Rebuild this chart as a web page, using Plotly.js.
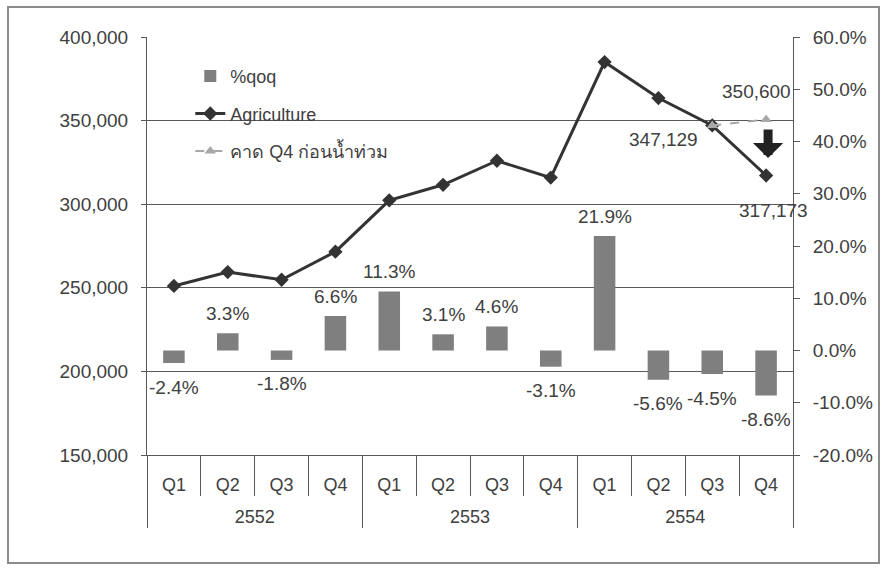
<!DOCTYPE html>
<html>
<head>
<meta charset="utf-8">
<script src="https://cdn.plot.ly/plotly-3.0.1.min.js"></script>
<style>
  html, body { margin: 0; padding: 0; background: #ffffff; }
  #wrap { position: relative; width: 884px; height: 569px; }
  #chart { position: absolute; left: 0; top: 0; width: 884px; height: 569px; }
  #frame { position: absolute; left: 7px; top: 6px; width: 873px; height: 558px; border: 2px solid #8c8c8c; box-sizing: border-box; pointer-events: none; }
</style>
</head>
<body>
<div id="wrap">
  <div id="chart"></div>
  <div id="frame"></div>
</div>
<script>
// ---- data ----
const years = ['2552','2552','2552','2552','2553','2553','2553','2553','2554','2554','2554','2554'];
const quarters = ['Q1','Q2','Q3','Q4','Q1','Q2','Q3','Q4','Q1','Q2','Q3','Q4'];
const qoqPct = [-2.4, 3.3, -1.8, 6.6, 11.3, 3.1, 4.6, -3.1, 21.9, -5.6, -4.5, -8.6];
const agriculture = [251100, 259400, 254800, 271600, 302300, 311600, 326000, 315900, 385000, 363500, 347129, 317173];
const forecastQ4 = [null, null, null, null, null, null, null, null, null, null, 347129, 350600];
const seriesNames = ['%qoq', 'Agriculture', 'คาด Q4 ก่อนน้ำท่วม'];
const rightTickVals = [-20, -10, 0, 10, 20, 30, 40, 50, 60];
const rightTickText = ['-20.0%', '-10.0%', '0.0%', '10.0%', '20.0%', '30.0%', '40.0%', '50.0%', '60.0%'];

// ---- styling ----
const FONT = 'Liberation Sans, Noto Sans, DejaVu Sans, sans-serif';
const TXT = '#404040';
const AX = '#595959';
// year row is pushed one line down (blank first line) to sit below the quarter tick marks
const x = [years.map(y => '<br>' + y), quarters];

const traces = [
  {
    type: 'bar', name: seriesNames[0], x: x, y: qoqPct, yaxis: 'y2',
    marker: { color: '#7f7f7f', line: { width: 0 } }, width: 0.4,
    legendgroup: 'a', hoverinfo: 'skip'
  },
  {
    type: 'scatter', mode: 'lines+markers', name: seriesNames[1], x: x, y: agriculture,
    line: { color: '#333333', width: 3 },
    marker: { symbol: 'diamond', size: 11, color: '#333333' },
    legendgroup: 'b', hoverinfo: 'skip'
  },
  {
    type: 'scatter', mode: 'lines+markers', name: seriesNames[2], x: x, y: forecastQ4,
    line: { color: '#a8a8a8', width: 2, dash: 'dash' },
    marker: { symbol: 'triangle-up', size: 10, color: '#a8a8a8' },
    legendgroup: 'c', hoverinfo: 'skip', connectgaps: false
  }
];

const annotations = [];
qoqPct.forEach((v, i) => {
  annotations.push({
    x: i, y: v, xref: 'x', yref: 'y2',
    text: v.toFixed(1) + '%', showarrow: false,
    yanchor: 'middle', yshift: v >= 0 ? 20 : -24,
    font: { family: FONT, size: 19, color: TXT }
  });
});
const n = agriculture.length;
annotations.push({
  x: n - 2, y: agriculture[n - 2], xref: 'x', yref: 'y',
  text: agriculture[n - 2].toLocaleString('en-US'), showarrow: false,
  xshift: -49, yshift: -14, font: { family: FONT, size: 19, color: TXT }
});
annotations.push({
  x: n - 1, y: forecastQ4[n - 1], xref: 'x', yref: 'y',
  text: forecastQ4[n - 1].toLocaleString('en-US'), showarrow: false,
  xshift: -10, yshift: 28, font: { family: FONT, size: 19, color: TXT }
});
annotations.push({
  x: n - 1, y: agriculture[n - 1], xref: 'x', yref: 'y',
  text: agriculture[n - 1].toLocaleString('en-US'), showarrow: false,
  xshift: 7, yshift: -35, font: { family: FONT, size: 19, color: TXT }
});
annotations.push({
  x: n - 1, y: 327600, xref: 'x', yref: 'y', text: '',
  showarrow: true, ax: 0, ay: -30, axref: 'pixel', ayref: 'pixel',
  arrowhead: 1, arrowwidth: 9, arrowsize: 0.56, arrowcolor: '#222222', xshift: 2
});

const layout = {
  width: 884, height: 569,
  margin: { l: 147, r: 91, t: 37, b: 114, pad: 0 },
  paper_bgcolor: '#ffffff', plot_bgcolor: '#ffffff',
  font: { family: FONT, size: 19, color: TXT },
  showlegend: true,
  legend: {
    x: 0.067, y: 0.950, xanchor: 'left', yanchor: 'top',
    bgcolor: 'rgba(0,0,0,0)', borderwidth: 0,
    font: { family: FONT, size: 18, color: TXT },
    tracegroupgap: 11, traceorder: 'grouped'
  },
  xaxis: {
    type: 'multicategory', range: [-0.5, n - 0.5], autorange: false,
    showline: true, linecolor: AX, linewidth: 1,
    ticks: 'outside', ticklen: 40, tickcolor: AX, tickwidth: 1,
    tickson: 'boundaries', ticklabelstandoff: 13,
    showdividers: true, dividercolor: AX, dividerwidth: 1,
    showgrid: false, zeroline: false,
    tickfont: { family: FONT, size: 18, color: TXT }
  },
  yaxis: {
    range: [150000, 400000], dtick: 50000, tick0: 150000, tickformat: ',',
    showgrid: true, gridcolor: AX, gridwidth: 1,
    showline: true, linecolor: AX, linewidth: 1,
    ticks: 'outside', ticklen: 5, tickcolor: AX,
    ticklabelstandoff: 9, zeroline: false,
    tickfont: { family: FONT, size: 19, color: TXT }
  },
  yaxis2: {
    overlaying: 'y', side: 'right', range: [-20, 60],
    tickvals: rightTickVals, ticktext: rightTickText,
    showgrid: false, zeroline: false,
    showline: true, linecolor: AX, linewidth: 1,
    ticks: 'outside', ticklen: 6, tickcolor: AX,
    ticklabelstandoff: 9,
    tickfont: { family: FONT, size: 19, color: TXT }
  },
  annotations: annotations
};

Plotly.newPlot('chart', traces, layout, { displayModeBar: false, staticPlot: true });
</script>
</body>
</html>
